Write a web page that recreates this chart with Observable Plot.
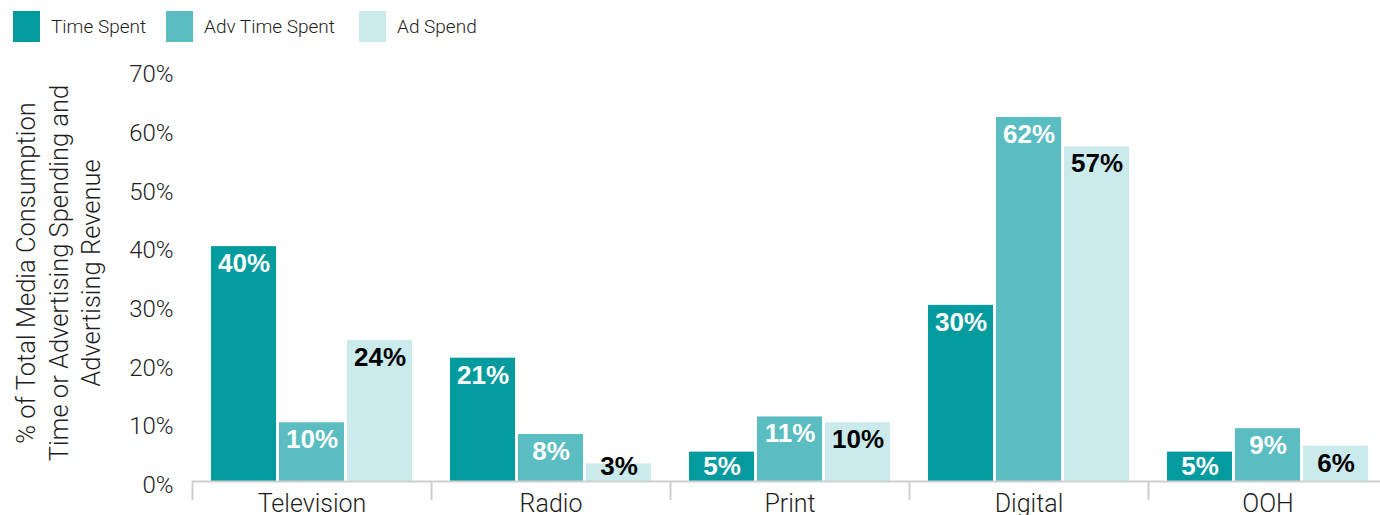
<!DOCTYPE html>
<html><head><meta charset="utf-8">
<script src="https://cdn.jsdelivr.net/npm/d3@7"></script>
<script src="https://cdn.jsdelivr.net/npm/@observablehq/plot@0.6"></script>
<style>
html,body{margin:0;padding:0;background:#fff;overflow:hidden;width:1380px;height:515px}
#legend{height:55px;box-sizing:border-box;padding:11px 0 0 13px}
#legend .lg-swatches{display:flex;align-items:center;margin:0;min-height:31px}
#legend .lg-swatch{display:inline-flex;align-items:center;margin:0 !important;font:300 19px Roboto, "Liberation Sans", sans-serif;color:#1e1e1e}
#legend .lg-swatch > svg{margin-right:11px !important}
#legend .lg-swatch:nth-of-type(1){width:153px}
#legend .lg-swatch:nth-of-type(2){width:193px}
#chart svg{display:block;max-width:none !important;height:460px !important}
</style></head><body>
<div id="legend"></div><div id="chart"></div>
<script>
const categories = ["Television", "Radio", "Print", "Digital", "OOH"];
const series = ["Time Spent", "Adv Time Spent", "Ad Spend"];
const timeSpent = [40, 21, 5, 30, 5];
const advTimeSpent = [10, 8, 11, 62, 9];
const adSpend = [24, 3, 10, 57, 6];
const colors = ["#039b9e", "#5abdc1", "#cbeaec"];
const yTicks = [0, 10, 20, 30, 40, 50, 60, 70];
const yTitle = "% of Total Media Consumption\nTime or Advertising Spending and\nAdvertising Revenue";

const seriesValues = [timeSpent, advTimeSpent, adSpend];
const data = categories.flatMap((c, i) => series.map((s, j) => ({category: c, series: s, value: seriesValues[j][i]})));

document.getElementById("legend").appendChild(Plot.legend({
  color: {domain: series, range: colors},
  swatchWidth: 27, swatchHeight: 31, className: "lg"
}));

const labelOpts = {
  fx: "category", x: "series",
  y: d => Math.max(d.value, 5.4),
  text: d => `${d.value}%`,
  dy: 17, fontSize: 26, fontWeight: "bold", fontFamily: "Liberation Sans, Arial, sans-serif"
};

const chart = Plot.plot({
  width: 1388, height: 460,
  marginTop: 15, marginBottom: 34, marginLeft: 192, marginRight: 1,
  style: {fontFamily: "Roboto, 'Liberation Sans', sans-serif", fontWeight: 300, color: "#1e1e1e", background: "white"},
  fx: {domain: categories, padding: 0, axis: null, round: false},
  x: {domain: series, paddingInner: 0.044, paddingOuter: 0.279, axis: null, round: false},
  y: {domain: [0, 70], axis: null},
  color: {domain: series, range: colors},
  marks: [
    Plot.barY(data, {fx: "category", x: "series", y: "value", fill: "series"}),
    Plot.ruleY([0], {stroke: "#cfcfcf", strokeWidth: 2}),
    Plot.axisY({ticks: yTicks, tickSize: 0, tickPadding: 19, tickFormat: d => `${d}%`, fontSize: 24, label: null, dy: 4}),
    Plot.axisFx({anchor: "bottom", tickSize: 0, tickPadding: 13, fontSize: 25, label: null}),
    Plot.axisFx({anchor: "bottom", tickSize: 19, tickFormat: () => "", dx: -119.5, stroke: "#cfcfcf", strokeWidth: 2, label: null}),
    Plot.text(data.filter(d => d.series !== "Ad Spend"), {...labelOpts, fill: "white"}),
    Plot.text(data.filter(d => d.series === "Ad Spend"), {...labelOpts, fill: "black"}),
    Plot.text([yTitle], {fx: () => categories[0], frameAnchor: "left", textAnchor: "middle", lineAnchor: "middle", dx: -135, dy: -3, rotate: -90, fontSize: 25.5, lineHeight: 1.27, fill: "#1e1e1e"})
  ]
});
document.getElementById("chart").appendChild(chart);
</script>
</body></html>
